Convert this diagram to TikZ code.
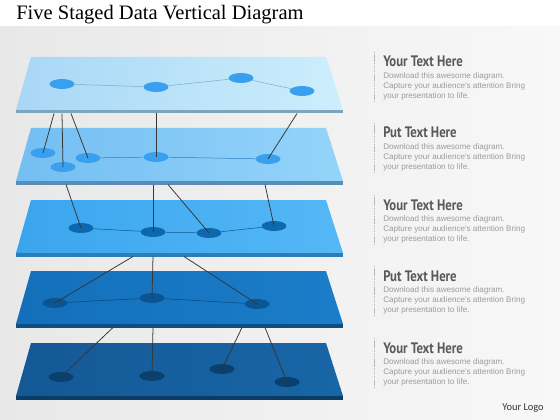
\documentclass[tikz,border=0pt]{standalone}
\usepackage{fontspec}
\setmainfont{Liberation Serif}
\newfontfamily\headfont{PT Sans}
\newfontfamily\bodyfont{Liberation Sans}
\newfontfamily\logofont{Carlito}
\usetikzlibrary{shapes.geometric}
\usetikzlibrary{positioning}

\definecolor{bgL}{HTML}{E8E8E8}
\definecolor{bgR}{HTML}{F8F8F8}
\definecolor{pA}{HTML}{A8D7F6}\definecolor{pAr}{HTML}{CDEEFC}\definecolor{pAe}{HTML}{7EA4BE}
\definecolor{pB}{HTML}{74BEF2}\definecolor{pBr}{HTML}{94D4FA}\definecolor{pBe}{HTML}{5A8DB5}
\definecolor{pC}{HTML}{3AA5EE}\definecolor{pCr}{HTML}{55B8F6}\definecolor{pCe}{HTML}{2C7DB8}
\definecolor{pD}{HTML}{146FBA}\definecolor{pDr}{HTML}{1B7DC9}\definecolor{pDe}{HTML}{0D4E85}
\definecolor{pE}{HTML}{145896}\definecolor{pEr}{HTML}{1866A6}\definecolor{pEe}{HTML}{0B3C68}
\definecolor{dotA}{HTML}{38A0EE}
\definecolor{dotC}{HTML}{0E68AE}
\definecolor{dotD}{HTML}{0B5592}
\definecolor{dotE}{HTML}{0A406D}
\definecolor{linkgray}{HTML}{363636}
\definecolor{headgray}{HTML}{595959}
\definecolor{bodygray}{HTML}{9C9C9C}

\tikzset{
  plotdot/.style={ellipse,minimum width=0.62cm,minimum height=0.25cm,inner sep=0pt},
  link/.style={linkgray,line width=0.55pt},
  trail/.style={line width=0.35pt},
  headtxt/.style={anchor=base west,inner sep=0pt,text=headgray,font=\headfont\bfseries\fontsize{10.8}{12}\selectfont},
  bodytxt/.style={anchor=north west,inner sep=0pt,align=left,text=bodygray,font=\bodyfont\fontsize{5.75}{6.9}\selectfont}
}

\begin{document}
\begin{tikzpicture}[x=0.025cm,y=-0.025cm]
\useasboundingbox (0,0) rectangle (560,420);
\fill[white] (0,0) rectangle (560,420);
\shade[left color=bgL,right color=bgR] (0,27) rectangle (560,420);
\node[anchor=base west,inner sep=0pt,font=\fontsize{14.6}{16}\selectfont] (title) at (16,20) {Five Staged Data Vertical Diagram};

% plate 1
\shade[left color=pA,right color=pAr] (31,57) -- (326,57) -- (343,110) -- (16,110) -- cycle;
\fill[pAe] (16,110) rectangle (343,113.5);
\node[plotdot,fill=dotA] (d1a) at (62,84) {};
\node[plotdot,fill=dotA] (d1b) at (156,87) {};
\node[plotdot,fill=dotA] (d1c) at (241,78) {};
\node[plotdot,fill=dotA] (d1d) at (302,91) {};
\draw[trail,color=dotA!70!black!60] (d1a) -- (d1b) -- (d1c) -- (d1d);

% plate 2
\shade[left color=pB,right color=pBr] (31,128) -- (326,128) -- (343,181) -- (16,181) -- cycle;
\fill[pBe] (16,181) rectangle (343,184.5);
\node[plotdot,fill=dotA] (d2a) at (43,153) {};
\node[plotdot,fill=dotA] (d2b) at (63,167) {};
\node[plotdot,fill=dotA] (d2c) at (88,158) {};
\node[plotdot,fill=dotA] (d2d) at (156,157) {};
\node[plotdot,fill=dotA] (d2e) at (268,159) {};
\draw[trail,color=dotA!80!black] (d2c) -- (d2d) -- (d2e);
\coordinate (c1a) at (54,113.5);
\coordinate (c1b) at (62,113.5);
\coordinate (c1c) at (71,113.5);
\coordinate (c1d) at (156,113.5);
\coordinate (c1e) at (297,113.5);
\draw[link] (c1a) -- (d2a.center);
\draw[link] (c1b) -- (d2b.center);
\draw[link] (c1c) -- (d2c.center);
\draw[link] (c1d) -- (d2d.center);
\draw[link] (c1e) -- (d2e.center);

% plate 3
\shade[left color=pC,right color=pCr] (31,200) -- (326,200) -- (343,253) -- (16,253) -- cycle;
\fill[pCe] (16,253) rectangle (343,256.5);
\node[plotdot,fill=dotC] (d3a) at (81,228) {};
\node[plotdot,fill=dotC] (d3b) at (153,232) {};
\node[plotdot,fill=dotC] (d3c) at (209,233) {};
\node[plotdot,fill=dotC] (d3d) at (274,226) {};
\draw[trail,color=dotC!80!black] (d3a) -- (d3b) -- (d3c) -- (d3d);
\coordinate (c2a) at (66,184.5);
\coordinate (c2b) at (153,184.5);
\coordinate (c2c) at (168,184.5);
\coordinate (c2d) at (265,184.5);
\draw[link] (c2a) -- (d3a.center);
\draw[link] (c2b) -- (d3b.center);
\draw[link] (c2c) -- (d3c.center);
\draw[link] (c2d) -- (d3d.center);

% plate 4
\shade[left color=pD,right color=pDr] (31,271) -- (326,271) -- (343,324) -- (16,324) -- cycle;
\fill[pDe] (16,324) rectangle (343,327.5);
\node[plotdot,fill=dotD] (d4a) at (55,303) {};
\node[plotdot,fill=dotD] (d4b) at (152,298) {};
\node[plotdot,fill=dotD] (d4c) at (257,304) {};
\draw[trail,color=dotD!80!black] (d4a) -- (d4b) -- (d4c);
\coordinate (c3a) at (133,256.5);
\coordinate (c3b) at (153,256.5);
\coordinate (c3c) at (184,256.5);
\draw[link] (c3a) -- (d4a.center);
\draw[link] (c3b) -- (d4b.center);
\draw[link] (c3c) -- (d4c.center);

% plate 5
\shade[left color=pE,right color=pEr] (31,343) -- (326,343) -- (343,396) -- (16,396) -- cycle;
\fill[pEe] (16,396) rectangle (343,399.5);
\node[plotdot,fill=dotE] (d5a) at (61,377) {};
\node[plotdot,fill=dotE] (d5b) at (152,376) {};
\node[plotdot,fill=dotE] (d5c) at (222,369) {};
\node[plotdot,fill=dotE] (d5d) at (287,382) {};
\coordinate (c4a) at (113,327.5);
\coordinate (c4b) at (153,327.5);
\coordinate (c4c) at (242,327.5);
\coordinate (c4d) at (265,327.5);
\draw[link] (c4a) -- (d5a.center);
\draw[link] (c4b) -- (d5b.center);
\draw[link] (c4c) -- (d5c.center);
\draw[link] (c4d) -- (d5d.center);

% text blocks
\foreach \yt/\hd [count=\i] in {57/Your Text Here,128/Put Text Here,200/Your Text Here,271/Put Text Here,343/Your Text Here}{
  \draw[gray!55,line width=0.5pt,dash pattern=on 1pt off 0.5pt] (374,\yt-5) -- (374,\yt+45);
  \node[headtxt] (head\i) at (383,\yt+10) {\scalebox{0.84}[1]{\hd}};
  \node[bodytxt] (body\i) at (383,\yt+15.5) {Download this awesome diagram.\\Capture your audience's attention Bring\\your presentation to life.};
}
\node[font=\logofont\fontsize{7.4}{9}\selectfont,text=black!80,inner sep=0pt] (logo) at (523,408) {Your Logo};
\end{tikzpicture}
\end{document}
